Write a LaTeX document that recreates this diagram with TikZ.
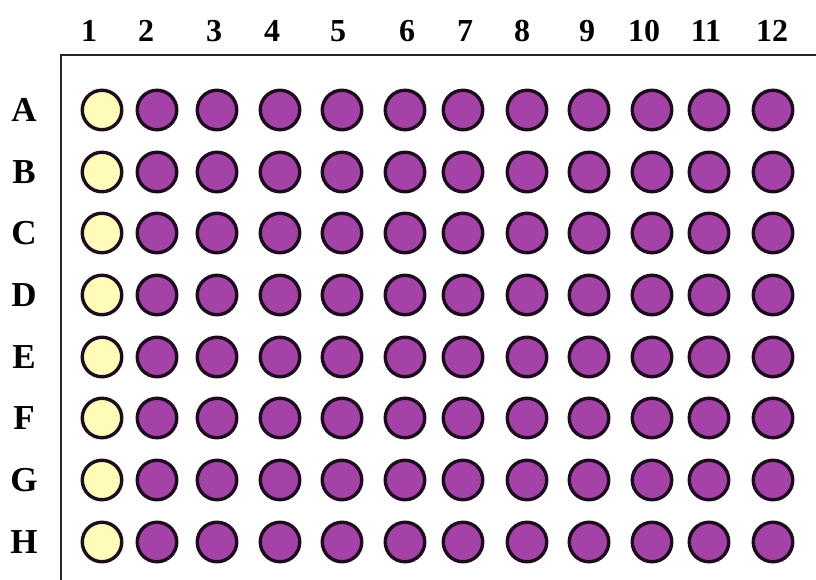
\documentclass[tikz,border=0pt]{standalone}
\usepackage{fontspec}
\setmainfont{Liberation Serif}
\usepackage{tikz}
\definecolor{wellpurple}{HTML}{A542A8}
\definecolor{wellyellow}{HTML}{FFFCB8}
\definecolor{welledge}{HTML}{1C0C1E}

\begin{document}
\begin{tikzpicture}[x=1pt,y=-1pt,
  well/.style={circle,draw=welledge,line width=3.4pt,
    minimum size=39.5pt,inner sep=0pt},
  blankwell/.style={well,fill=wellyellow},
  samplewell/.style={well,fill=wellpurple},
  collabel/.style={font=\fontsize{32}{32}\selectfont\bfseries,inner sep=0pt},
  rowlabel/.style={font=\fontsize{35}{35}\selectfont\bfseries,inner sep=0pt}]

  \useasboundingbox (0,0) rectangle (816,580);

  % plate frame
  \coordinate (frametl) at (61,55);
  \coordinate (frametr) at (816,55);
  \coordinate (framebl) at (61,580);
  \draw[line width=2.5pt,black!85] (frametr) -- (frametl) -- (framebl);

  % column numbers
  \foreach \c/\x in {1/89,2/146,3/214,4/272,5/338,6/407,
                     7/465,8/522,9/587,10/644,11/706,12/772}
    \node[collabel] (col\c) at (\x,31) {\c};

  % rows of wells
  \foreach \r/\y in {A/110,B/172,C/233,D/295,E/357,F/418,G/480,H/542}{
    \node[rowlabel] (row\r) at (24,\y) {\r};
    \foreach \c/\x in {1/102,2/157,3/217,4/280,5/342,6/405,
                       7/463,8/527,9/589,10/652,11/709,12/773}{
      \ifnum\c=1
        \node[blankwell] (well\r\c) at (\x,\y) {};
      \else
        \node[samplewell] (well\r\c) at (\x,\y) {};
      \fi
    }
  }
\end{tikzpicture}
\end{document}
